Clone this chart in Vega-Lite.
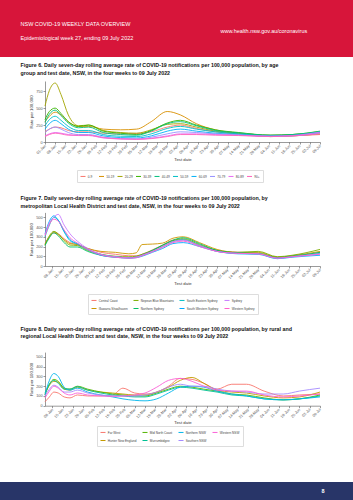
{
  "$schema": "https://vega.github.io/schema/vega-lite/v6.json",
  "padding": 0,
  "spacing": 0,
  "bounds": "flush",
  "background": "white",
  "resolve": {"scale": {"color": "independent"}, "legend": {"color": "independent"}},
  "config": {
    "view": {"stroke": null},
    "font": "Liberation Sans",
    "axis": {"labelFont": "Liberation Sans", "labelFontSize": 3.8, "labelColor": "#555555", "tickColor": "#555555", "domainColor": "#555555", "tickSize": 2, "domainWidth": 0.6, "tickWidth": 0.6, "titleFont": "Liberation Sans", "titleFontSize": 4.3, "titleFontWeight": "normal", "titleColor": "#333333", "grid": false, "labelPadding": 1},
    "legend": {"labelFont": "Liberation Sans", "labelFontSize": 3.1, "labelColor": "#444444", "symbolType": "stroke", "symbolStrokeWidth": 1, "symbolSize": 25, "strokeColor": "#dddddd", "padding": 3, "rowPadding": 2.5, "columnPadding": 2, "labelOffset": 1.8},
    "title": {"font": "Liberation Sans", "fontSize": 5.3, "fontWeight": "bold", "color": "#111111", "anchor": "start", "frame": "group", "lineHeight": 7.3}
  },
  "datasets": {
    "head": [
      {"text": "NSW COVID-19 WEEKLY DATA OVERVIEW", "side": "left", "row": "a"},
      {"text": "www.health.nsw.gov.au/coronavirus", "side": "right", "row": "b"},
      {"text": "Epidemiological week 27, ending 09 July 2022", "side": "left", "row": "c"}
    ],
    "f6": [
      {"date":"2022-01-01","group":"0-9","rate":150},{"date":"2022-01-04","group":"0-9","rate":190},{"date":"2022-01-08","group":"0-9","rate":220},{"date":"2022-01-12","group":"0-9","rate":210},{"date":"2022-01-17","group":"0-9","rate":170},{"date":"2022-01-24","group":"0-9","rate":150},{"date":"2022-01-31","group":"0-9","rate":150},{"date":"2022-02-10","group":"0-9","rate":130},{"date":"2022-02-22","group":"0-9","rate":120},{"date":"2022-03-05","group":"0-9","rate":125},{"date":"2022-03-15","group":"0-9","rate":150},{"date":"2022-03-26","group":"0-9","rate":220},{"date":"2022-04-04","group":"0-9","rate":250},{"date":"2022-04-15","group":"0-9","rate":200},{"date":"2022-04-28","group":"0-9","rate":150},{"date":"2022-05-14","group":"0-9","rate":120},{"date":"2022-06-05","group":"0-9","rate":80},{"date":"2022-06-20","group":"0-9","rate":90},{"date":"2022-07-09","group":"0-9","rate":110},
      {"date":"2022-01-01","group":"10-19","rate":300},{"date":"2022-01-04","group":"10-19","rate":380},{"date":"2022-01-08","group":"10-19","rate":440},{"date":"2022-01-12","group":"10-19","rate":400},{"date":"2022-01-17","group":"10-19","rate":300},{"date":"2022-01-24","group":"10-19","rate":230},{"date":"2022-01-31","group":"10-19","rate":230},{"date":"2022-02-10","group":"10-19","rate":190},{"date":"2022-02-22","group":"10-19","rate":180},{"date":"2022-03-05","group":"10-19","rate":190},{"date":"2022-03-15","group":"10-19","rate":300},{"date":"2022-03-26","group":"10-19","rate":450},{"date":"2022-04-04","group":"10-19","rate":400},{"date":"2022-04-15","group":"10-19","rate":270},{"date":"2022-04-28","group":"10-19","rate":180},{"date":"2022-05-14","group":"10-19","rate":130},{"date":"2022-06-05","group":"10-19","rate":80},{"date":"2022-06-20","group":"10-19","rate":90},{"date":"2022-07-09","group":"10-19","rate":120},
      {"date":"2022-01-01","group":"20-29","rate":530},{"date":"2022-01-04","group":"20-29","rate":760},{"date":"2022-01-08","group":"20-29","rate":870},{"date":"2022-01-12","group":"20-29","rate":700},{"date":"2022-01-17","group":"20-29","rate":400},{"date":"2022-01-24","group":"20-29","rate":240},{"date":"2022-01-31","group":"20-29","rate":250},{"date":"2022-02-10","group":"20-29","rate":170},{"date":"2022-02-22","group":"20-29","rate":140},{"date":"2022-03-05","group":"20-29","rate":130},{"date":"2022-03-15","group":"20-29","rate":180},{"date":"2022-03-26","group":"20-29","rate":260},{"date":"2022-04-04","group":"20-29","rate":270},{"date":"2022-04-15","group":"20-29","rate":220},{"date":"2022-04-28","group":"20-29","rate":160},{"date":"2022-05-14","group":"20-29","rate":130},{"date":"2022-06-05","group":"20-29","rate":100},{"date":"2022-06-20","group":"20-29","rate":110},{"date":"2022-07-09","group":"20-29","rate":140},
      {"date":"2022-01-01","group":"30-39","rate":330},{"date":"2022-01-04","group":"30-39","rate":450},{"date":"2022-01-08","group":"30-39","rate":500},{"date":"2022-01-12","group":"30-39","rate":420},{"date":"2022-01-17","group":"30-39","rate":300},{"date":"2022-01-24","group":"30-39","rate":230},{"date":"2022-01-31","group":"30-39","rate":250},{"date":"2022-02-10","group":"30-39","rate":160},{"date":"2022-02-22","group":"30-39","rate":130},{"date":"2022-03-05","group":"30-39","rate":110},{"date":"2022-03-15","group":"30-39","rate":170},{"date":"2022-03-26","group":"30-39","rate":280},{"date":"2022-04-04","group":"30-39","rate":320},{"date":"2022-04-15","group":"30-39","rate":250},{"date":"2022-04-28","group":"30-39","rate":180},{"date":"2022-05-14","group":"30-39","rate":140},{"date":"2022-06-05","group":"30-39","rate":100},{"date":"2022-06-20","group":"30-39","rate":110},{"date":"2022-07-09","group":"30-39","rate":160},
      {"date":"2022-01-01","group":"40-49","rate":290},{"date":"2022-01-04","group":"40-49","rate":410},{"date":"2022-01-08","group":"40-49","rate":470},{"date":"2022-01-12","group":"40-49","rate":390},{"date":"2022-01-17","group":"40-49","rate":280},{"date":"2022-01-24","group":"40-49","rate":210},{"date":"2022-01-31","group":"40-49","rate":220},{"date":"2022-02-10","group":"40-49","rate":140},{"date":"2022-02-22","group":"40-49","rate":110},{"date":"2022-03-05","group":"40-49","rate":100},{"date":"2022-03-15","group":"40-49","rate":160},{"date":"2022-03-26","group":"40-49","rate":270},{"date":"2022-04-04","group":"40-49","rate":300},{"date":"2022-04-15","group":"40-49","rate":240},{"date":"2022-04-28","group":"40-49","rate":170},{"date":"2022-05-14","group":"40-49","rate":135},{"date":"2022-06-05","group":"40-49","rate":100},{"date":"2022-06-20","group":"40-49","rate":110},{"date":"2022-07-09","group":"40-49","rate":155},
      {"date":"2022-01-01","group":"50-59","rate":240},{"date":"2022-01-04","group":"50-59","rate":330},{"date":"2022-01-08","group":"50-59","rate":380},{"date":"2022-01-12","group":"50-59","rate":320},{"date":"2022-01-17","group":"50-59","rate":230},{"date":"2022-01-24","group":"50-59","rate":170},{"date":"2022-01-31","group":"50-59","rate":170},{"date":"2022-02-10","group":"50-59","rate":110},{"date":"2022-02-22","group":"50-59","rate":85},{"date":"2022-03-05","group":"50-59","rate":80},{"date":"2022-03-15","group":"50-59","rate":120},{"date":"2022-03-26","group":"50-59","rate":200},{"date":"2022-04-04","group":"50-59","rate":230},{"date":"2022-04-15","group":"50-59","rate":190},{"date":"2022-04-28","group":"50-59","rate":150},{"date":"2022-05-14","group":"50-59","rate":120},{"date":"2022-06-05","group":"50-59","rate":90},{"date":"2022-06-20","group":"50-59","rate":100},{"date":"2022-07-09","group":"50-59","rate":150},
      {"date":"2022-01-01","group":"60-69","rate":190},{"date":"2022-01-04","group":"60-69","rate":270},{"date":"2022-01-08","group":"60-69","rate":320},{"date":"2022-01-12","group":"60-69","rate":270},{"date":"2022-01-17","group":"60-69","rate":190},{"date":"2022-01-24","group":"60-69","rate":140},{"date":"2022-01-31","group":"60-69","rate":140},{"date":"2022-02-10","group":"60-69","rate":90},{"date":"2022-02-22","group":"60-69","rate":65},{"date":"2022-03-05","group":"60-69","rate":60},{"date":"2022-03-15","group":"60-69","rate":90},{"date":"2022-03-26","group":"60-69","rate":160},{"date":"2022-04-04","group":"60-69","rate":190},{"date":"2022-04-15","group":"60-69","rate":160},{"date":"2022-04-28","group":"60-69","rate":130},{"date":"2022-05-14","group":"60-69","rate":110},{"date":"2022-06-05","group":"60-69","rate":85},{"date":"2022-06-20","group":"60-69","rate":95},{"date":"2022-07-09","group":"60-69","rate":140},
      {"date":"2022-01-01","group":"70-79","rate":140},{"date":"2022-01-04","group":"70-79","rate":190},{"date":"2022-01-08","group":"70-79","rate":220},{"date":"2022-01-12","group":"70-79","rate":190},{"date":"2022-01-17","group":"70-79","rate":140},{"date":"2022-01-24","group":"70-79","rate":110},{"date":"2022-01-31","group":"70-79","rate":110},{"date":"2022-02-10","group":"70-79","rate":70},{"date":"2022-02-22","group":"70-79","rate":50},{"date":"2022-03-05","group":"70-79","rate":45},{"date":"2022-03-15","group":"70-79","rate":70},{"date":"2022-03-26","group":"70-79","rate":120},{"date":"2022-04-04","group":"70-79","rate":150},{"date":"2022-04-15","group":"70-79","rate":140},{"date":"2022-04-28","group":"70-79","rate":120},{"date":"2022-05-14","group":"70-79","rate":105},{"date":"2022-06-05","group":"70-79","rate":85},{"date":"2022-06-20","group":"70-79","rate":90},{"date":"2022-07-09","group":"70-79","rate":130},
      {"date":"2022-01-01","group":"80-89","rate":90},{"date":"2022-01-04","group":"80-89","rate":120},{"date":"2022-01-08","group":"80-89","rate":140},{"date":"2022-01-12","group":"80-89","rate":130},{"date":"2022-01-17","group":"80-89","rate":110},{"date":"2022-01-24","group":"80-89","rate":95},{"date":"2022-01-31","group":"80-89","rate":95},{"date":"2022-02-10","group":"80-89","rate":60},{"date":"2022-02-22","group":"80-89","rate":45},{"date":"2022-03-05","group":"80-89","rate":40},{"date":"2022-03-15","group":"80-89","rate":55},{"date":"2022-03-26","group":"80-89","rate":90},{"date":"2022-04-04","group":"80-89","rate":120},{"date":"2022-04-15","group":"80-89","rate":120},{"date":"2022-04-28","group":"80-89","rate":110},{"date":"2022-05-14","group":"80-89","rate":100},{"date":"2022-06-05","group":"80-89","rate":85},{"date":"2022-06-20","group":"80-89","rate":95},{"date":"2022-07-09","group":"80-89","rate":145},
      {"date":"2022-01-01","group":"90+","rate":80},{"date":"2022-01-04","group":"90+","rate":110},{"date":"2022-01-08","group":"90+","rate":130},{"date":"2022-01-12","group":"90+","rate":120},{"date":"2022-01-17","group":"90+","rate":100},{"date":"2022-01-24","group":"90+","rate":100},{"date":"2022-01-31","group":"90+","rate":100},{"date":"2022-02-10","group":"90+","rate":65},{"date":"2022-02-22","group":"90+","rate":45},{"date":"2022-03-05","group":"90+","rate":40},{"date":"2022-03-15","group":"90+","rate":50},{"date":"2022-03-26","group":"90+","rate":80},{"date":"2022-04-04","group":"90+","rate":110},{"date":"2022-04-15","group":"90+","rate":110},{"date":"2022-04-28","group":"90+","rate":100},{"date":"2022-05-14","group":"90+","rate":95},{"date":"2022-06-05","group":"90+","rate":80},{"date":"2022-06-20","group":"90+","rate":90},{"date":"2022-07-09","group":"90+","rate":120}
    ],
    "f7": [
      {"date":"2022-01-03","group":"Central Coast","rate":230},{"date":"2022-01-06","group":"Central Coast","rate":300},{"date":"2022-01-09","group":"Central Coast","rate":340},{"date":"2022-01-12","group":"Central Coast","rate":330},{"date":"2022-01-16","group":"Central Coast","rate":280},{"date":"2022-01-20","group":"Central Coast","rate":240},{"date":"2022-01-25","group":"Central Coast","rate":220},{"date":"2022-02-01","group":"Central Coast","rate":180},{"date":"2022-02-10","group":"Central Coast","rate":140},{"date":"2022-02-20","group":"Central Coast","rate":120},{"date":"2022-03-01","group":"Central Coast","rate":105},{"date":"2022-03-06","group":"Central Coast","rate":105},{"date":"2022-03-10","group":"Central Coast","rate":120},{"date":"2022-03-17","group":"Central Coast","rate":165},{"date":"2022-03-24","group":"Central Coast","rate":215},{"date":"2022-03-31","group":"Central Coast","rate":265},{"date":"2022-04-07","group":"Central Coast","rate":270},{"date":"2022-04-18","group":"Central Coast","rate":210},{"date":"2022-04-30","group":"Central Coast","rate":160},{"date":"2022-05-14","group":"Central Coast","rate":140},{"date":"2022-05-28","group":"Central Coast","rate":130},{"date":"2022-06-10","group":"Central Coast","rate":90},{"date":"2022-06-20","group":"Central Coast","rate":100},{"date":"2022-07-09","group":"Central Coast","rate":140},
      {"date":"2022-01-03","group":"Illawarra Shoalhaven","rate":220},{"date":"2022-01-06","group":"Illawarra Shoalhaven","rate":300},{"date":"2022-01-09","group":"Illawarra Shoalhaven","rate":350},{"date":"2022-01-12","group":"Illawarra Shoalhaven","rate":320},{"date":"2022-01-16","group":"Illawarra Shoalhaven","rate":270},{"date":"2022-01-20","group":"Illawarra Shoalhaven","rate":230},{"date":"2022-01-25","group":"Illawarra Shoalhaven","rate":220},{"date":"2022-02-01","group":"Illawarra Shoalhaven","rate":180},{"date":"2022-02-10","group":"Illawarra Shoalhaven","rate":150},{"date":"2022-02-20","group":"Illawarra Shoalhaven","rate":140},{"date":"2022-03-01","group":"Illawarra Shoalhaven","rate":125},{"date":"2022-03-06","group":"Illawarra Shoalhaven","rate":135},{"date":"2022-03-10","group":"Illawarra Shoalhaven","rate":220},{"date":"2022-03-17","group":"Illawarra Shoalhaven","rate":225},{"date":"2022-03-24","group":"Illawarra Shoalhaven","rate":235},{"date":"2022-03-31","group":"Illawarra Shoalhaven","rate":285},{"date":"2022-04-07","group":"Illawarra Shoalhaven","rate":300},{"date":"2022-04-18","group":"Illawarra Shoalhaven","rate":240},{"date":"2022-04-30","group":"Illawarra Shoalhaven","rate":170},{"date":"2022-05-14","group":"Illawarra Shoalhaven","rate":140},{"date":"2022-05-28","group":"Illawarra Shoalhaven","rate":140},{"date":"2022-06-10","group":"Illawarra Shoalhaven","rate":90},{"date":"2022-06-20","group":"Illawarra Shoalhaven","rate":105},{"date":"2022-07-09","group":"Illawarra Shoalhaven","rate":150},
      {"date":"2022-01-03","group":"Nepean Blue Mountains","rate":220},{"date":"2022-01-06","group":"Nepean Blue Mountains","rate":310},{"date":"2022-01-09","group":"Nepean Blue Mountains","rate":355},{"date":"2022-01-12","group":"Nepean Blue Mountains","rate":330},{"date":"2022-01-16","group":"Nepean Blue Mountains","rate":260},{"date":"2022-01-20","group":"Nepean Blue Mountains","rate":215},{"date":"2022-01-25","group":"Nepean Blue Mountains","rate":210},{"date":"2022-02-01","group":"Nepean Blue Mountains","rate":160},{"date":"2022-02-10","group":"Nepean Blue Mountains","rate":120},{"date":"2022-02-20","group":"Nepean Blue Mountains","rate":100},{"date":"2022-03-01","group":"Nepean Blue Mountains","rate":95},{"date":"2022-03-06","group":"Nepean Blue Mountains","rate":100},{"date":"2022-03-10","group":"Nepean Blue Mountains","rate":120},{"date":"2022-03-17","group":"Nepean Blue Mountains","rate":160},{"date":"2022-03-24","group":"Nepean Blue Mountains","rate":210},{"date":"2022-03-31","group":"Nepean Blue Mountains","rate":260},{"date":"2022-04-07","group":"Nepean Blue Mountains","rate":280},{"date":"2022-04-18","group":"Nepean Blue Mountains","rate":220},{"date":"2022-04-30","group":"Nepean Blue Mountains","rate":160},{"date":"2022-05-14","group":"Nepean Blue Mountains","rate":140},{"date":"2022-05-28","group":"Nepean Blue Mountains","rate":150},{"date":"2022-06-10","group":"Nepean Blue Mountains","rate":95},{"date":"2022-06-20","group":"Nepean Blue Mountains","rate":110},{"date":"2022-07-09","group":"Nepean Blue Mountains","rate":170},
      {"date":"2022-01-03","group":"Northern Sydney","rate":210},{"date":"2022-01-06","group":"Northern Sydney","rate":290},{"date":"2022-01-09","group":"Northern Sydney","rate":340},{"date":"2022-01-12","group":"Northern Sydney","rate":310},{"date":"2022-01-16","group":"Northern Sydney","rate":240},{"date":"2022-01-20","group":"Northern Sydney","rate":195},{"date":"2022-01-25","group":"Northern Sydney","rate":195},{"date":"2022-02-01","group":"Northern Sydney","rate":150},{"date":"2022-02-10","group":"Northern Sydney","rate":110},{"date":"2022-02-20","group":"Northern Sydney","rate":90},{"date":"2022-03-01","group":"Northern Sydney","rate":85},{"date":"2022-03-06","group":"Northern Sydney","rate":90},{"date":"2022-03-10","group":"Northern Sydney","rate":110},{"date":"2022-03-17","group":"Northern Sydney","rate":160},{"date":"2022-03-24","group":"Northern Sydney","rate":215},{"date":"2022-03-31","group":"Northern Sydney","rate":265},{"date":"2022-04-07","group":"Northern Sydney","rate":290},{"date":"2022-04-18","group":"Northern Sydney","rate":230},{"date":"2022-04-30","group":"Northern Sydney","rate":160},{"date":"2022-05-14","group":"Northern Sydney","rate":135},{"date":"2022-05-28","group":"Northern Sydney","rate":130},{"date":"2022-06-10","group":"Northern Sydney","rate":85},{"date":"2022-06-20","group":"Northern Sydney","rate":100},{"date":"2022-07-09","group":"Northern Sydney","rate":140},
      {"date":"2022-01-03","group":"South Eastern Sydney","rate":300},{"date":"2022-01-06","group":"South Eastern Sydney","rate":420},{"date":"2022-01-09","group":"South Eastern Sydney","rate":500},{"date":"2022-01-12","group":"South Eastern Sydney","rate":470},{"date":"2022-01-16","group":"South Eastern Sydney","rate":350},{"date":"2022-01-20","group":"South Eastern Sydney","rate":260},{"date":"2022-01-25","group":"South Eastern Sydney","rate":225},{"date":"2022-02-01","group":"South Eastern Sydney","rate":170},{"date":"2022-02-10","group":"South Eastern Sydney","rate":120},{"date":"2022-02-20","group":"South Eastern Sydney","rate":95},{"date":"2022-03-01","group":"South Eastern Sydney","rate":85},{"date":"2022-03-06","group":"South Eastern Sydney","rate":90},{"date":"2022-03-10","group":"South Eastern Sydney","rate":110},{"date":"2022-03-17","group":"South Eastern Sydney","rate":150},{"date":"2022-03-24","group":"South Eastern Sydney","rate":200},{"date":"2022-03-31","group":"South Eastern Sydney","rate":250},{"date":"2022-04-07","group":"South Eastern Sydney","rate":270},{"date":"2022-04-18","group":"South Eastern Sydney","rate":210},{"date":"2022-04-30","group":"South Eastern Sydney","rate":150},{"date":"2022-05-14","group":"South Eastern Sydney","rate":130},{"date":"2022-05-28","group":"South Eastern Sydney","rate":125},{"date":"2022-06-10","group":"South Eastern Sydney","rate":80},{"date":"2022-06-20","group":"South Eastern Sydney","rate":95},{"date":"2022-07-09","group":"South Eastern Sydney","rate":130},
      {"date":"2022-01-03","group":"South Western Sydney","rate":330},{"date":"2022-01-06","group":"South Western Sydney","rate":460},{"date":"2022-01-09","group":"South Western Sydney","rate":515},{"date":"2022-01-12","group":"South Western Sydney","rate":470},{"date":"2022-01-16","group":"South Western Sydney","rate":360},{"date":"2022-01-20","group":"South Western Sydney","rate":270},{"date":"2022-01-25","group":"South Western Sydney","rate":230},{"date":"2022-02-01","group":"South Western Sydney","rate":170},{"date":"2022-02-10","group":"South Western Sydney","rate":110},{"date":"2022-02-20","group":"South Western Sydney","rate":90},{"date":"2022-03-01","group":"South Western Sydney","rate":80},{"date":"2022-03-06","group":"South Western Sydney","rate":85},{"date":"2022-03-10","group":"South Western Sydney","rate":100},{"date":"2022-03-17","group":"South Western Sydney","rate":140},{"date":"2022-03-24","group":"South Western Sydney","rate":180},{"date":"2022-03-31","group":"South Western Sydney","rate":230},{"date":"2022-04-07","group":"South Western Sydney","rate":240},{"date":"2022-04-18","group":"South Western Sydney","rate":200},{"date":"2022-04-30","group":"South Western Sydney","rate":150},{"date":"2022-05-14","group":"South Western Sydney","rate":125},{"date":"2022-05-28","group":"South Western Sydney","rate":120},{"date":"2022-06-10","group":"South Western Sydney","rate":75},{"date":"2022-06-20","group":"South Western Sydney","rate":90},{"date":"2022-07-09","group":"South Western Sydney","rate":110},
      {"date":"2022-01-03","group":"Sydney","rate":320},{"date":"2022-01-06","group":"Sydney","rate":440},{"date":"2022-01-09","group":"Sydney","rate":500},{"date":"2022-01-12","group":"Sydney","rate":530},{"date":"2022-01-16","group":"Sydney","rate":420},{"date":"2022-01-20","group":"Sydney","rate":330},{"date":"2022-01-25","group":"Sydney","rate":255},{"date":"2022-02-01","group":"Sydney","rate":180},{"date":"2022-02-10","group":"Sydney","rate":120},{"date":"2022-02-20","group":"Sydney","rate":95},{"date":"2022-03-01","group":"Sydney","rate":85},{"date":"2022-03-06","group":"Sydney","rate":90},{"date":"2022-03-10","group":"Sydney","rate":110},{"date":"2022-03-17","group":"Sydney","rate":150},{"date":"2022-03-24","group":"Sydney","rate":200},{"date":"2022-03-31","group":"Sydney","rate":250},{"date":"2022-04-07","group":"Sydney","rate":265},{"date":"2022-04-18","group":"Sydney","rate":210},{"date":"2022-04-30","group":"Sydney","rate":150},{"date":"2022-05-14","group":"Sydney","rate":130},{"date":"2022-05-28","group":"Sydney","rate":125},{"date":"2022-06-10","group":"Sydney","rate":80},{"date":"2022-06-20","group":"Sydney","rate":95},{"date":"2022-07-09","group":"Sydney","rate":125},
      {"date":"2022-01-03","group":"Western Sydney","rate":310},{"date":"2022-01-06","group":"Western Sydney","rate":430},{"date":"2022-01-09","group":"Western Sydney","rate":480},{"date":"2022-01-12","group":"Western Sydney","rate":460},{"date":"2022-01-16","group":"Western Sydney","rate":370},{"date":"2022-01-20","group":"Western Sydney","rate":290},{"date":"2022-01-25","group":"Western Sydney","rate":235},{"date":"2022-02-01","group":"Western Sydney","rate":170},{"date":"2022-02-10","group":"Western Sydney","rate":115},{"date":"2022-02-20","group":"Western Sydney","rate":90},{"date":"2022-03-01","group":"Western Sydney","rate":80},{"date":"2022-03-06","group":"Western Sydney","rate":85},{"date":"2022-03-10","group":"Western Sydney","rate":105},{"date":"2022-03-17","group":"Western Sydney","rate":145},{"date":"2022-03-24","group":"Western Sydney","rate":190},{"date":"2022-03-31","group":"Western Sydney","rate":240},{"date":"2022-04-07","group":"Western Sydney","rate":255},{"date":"2022-04-18","group":"Western Sydney","rate":200},{"date":"2022-04-30","group":"Western Sydney","rate":150},{"date":"2022-05-14","group":"Western Sydney","rate":130},{"date":"2022-05-28","group":"Western Sydney","rate":125},{"date":"2022-06-10","group":"Western Sydney","rate":80},{"date":"2022-06-20","group":"Western Sydney","rate":95},{"date":"2022-07-09","group":"Western Sydney","rate":120}
    ],
    "f8": [
      {"date":"2022-01-03","group":"Far West","rate":40},{"date":"2022-01-06","group":"Far West","rate":90},{"date":"2022-01-09","group":"Far West","rate":140},{"date":"2022-01-12","group":"Far West","rate":130},{"date":"2022-01-16","group":"Far West","rate":90},{"date":"2022-01-20","group":"Far West","rate":80},{"date":"2022-01-25","group":"Far West","rate":110},{"date":"2022-02-01","group":"Far West","rate":100},{"date":"2022-02-10","group":"Far West","rate":100},{"date":"2022-02-18","group":"Far West","rate":110},{"date":"2022-02-25","group":"Far West","rate":180},{"date":"2022-03-05","group":"Far West","rate":130},{"date":"2022-03-12","group":"Far West","rate":120},{"date":"2022-03-20","group":"Far West","rate":140},{"date":"2022-03-28","group":"Far West","rate":200},{"date":"2022-04-05","group":"Far West","rate":280},{"date":"2022-04-13","group":"Far West","rate":270},{"date":"2022-04-21","group":"Far West","rate":230},{"date":"2022-04-30","group":"Far West","rate":170},{"date":"2022-05-10","group":"Far West","rate":220},{"date":"2022-05-20","group":"Far West","rate":220},{"date":"2022-06-01","group":"Far West","rate":150},{"date":"2022-06-14","group":"Far West","rate":100},{"date":"2022-06-25","group":"Far West","rate":110},{"date":"2022-07-09","group":"Far West","rate":120},
      {"date":"2022-01-03","group":"Hunter New England","rate":120},{"date":"2022-01-06","group":"Hunter New England","rate":210},{"date":"2022-01-09","group":"Hunter New England","rate":250},{"date":"2022-01-12","group":"Hunter New England","rate":240},{"date":"2022-01-16","group":"Hunter New England","rate":170},{"date":"2022-01-20","group":"Hunter New England","rate":160},{"date":"2022-01-25","group":"Hunter New England","rate":190},{"date":"2022-02-01","group":"Hunter New England","rate":160},{"date":"2022-02-10","group":"Hunter New England","rate":140},{"date":"2022-02-18","group":"Hunter New England","rate":130},{"date":"2022-02-25","group":"Hunter New England","rate":120},{"date":"2022-03-05","group":"Hunter New England","rate":110},{"date":"2022-03-12","group":"Hunter New England","rate":110},{"date":"2022-03-20","group":"Hunter New England","rate":140},{"date":"2022-03-28","group":"Hunter New England","rate":190},{"date":"2022-04-05","group":"Hunter New England","rate":260},{"date":"2022-04-13","group":"Hunter New England","rate":290},{"date":"2022-04-21","group":"Hunter New England","rate":230},{"date":"2022-04-30","group":"Hunter New England","rate":160},{"date":"2022-05-10","group":"Hunter New England","rate":140},{"date":"2022-05-20","group":"Hunter New England","rate":130},{"date":"2022-06-01","group":"Hunter New England","rate":100},{"date":"2022-06-14","group":"Hunter New England","rate":80},{"date":"2022-06-25","group":"Hunter New England","rate":90},{"date":"2022-07-09","group":"Hunter New England","rate":140},
      {"date":"2022-01-03","group":"Mid North Coast","rate":110},{"date":"2022-01-06","group":"Mid North Coast","rate":220},{"date":"2022-01-09","group":"Mid North Coast","rate":270},{"date":"2022-01-12","group":"Mid North Coast","rate":250},{"date":"2022-01-16","group":"Mid North Coast","rate":180},{"date":"2022-01-20","group":"Mid North Coast","rate":170},{"date":"2022-01-25","group":"Mid North Coast","rate":200},{"date":"2022-02-01","group":"Mid North Coast","rate":170},{"date":"2022-02-10","group":"Mid North Coast","rate":140},{"date":"2022-02-18","group":"Mid North Coast","rate":120},{"date":"2022-02-25","group":"Mid North Coast","rate":110},{"date":"2022-03-05","group":"Mid North Coast","rate":100},{"date":"2022-03-12","group":"Mid North Coast","rate":100},{"date":"2022-03-20","group":"Mid North Coast","rate":130},{"date":"2022-03-28","group":"Mid North Coast","rate":170},{"date":"2022-04-05","group":"Mid North Coast","rate":200},{"date":"2022-04-13","group":"Mid North Coast","rate":190},{"date":"2022-04-21","group":"Mid North Coast","rate":170},{"date":"2022-04-30","group":"Mid North Coast","rate":150},{"date":"2022-05-10","group":"Mid North Coast","rate":120},{"date":"2022-05-20","group":"Mid North Coast","rate":110},{"date":"2022-06-01","group":"Mid North Coast","rate":80},{"date":"2022-06-14","group":"Mid North Coast","rate":60},{"date":"2022-06-25","group":"Mid North Coast","rate":70},{"date":"2022-07-09","group":"Mid North Coast","rate":110},
      {"date":"2022-01-03","group":"Murrumbidgee","rate":130},{"date":"2022-01-06","group":"Murrumbidgee","rate":220},{"date":"2022-01-09","group":"Murrumbidgee","rate":260},{"date":"2022-01-12","group":"Murrumbidgee","rate":230},{"date":"2022-01-16","group":"Murrumbidgee","rate":170},{"date":"2022-01-20","group":"Murrumbidgee","rate":170},{"date":"2022-01-25","group":"Murrumbidgee","rate":195},{"date":"2022-02-01","group":"Murrumbidgee","rate":160},{"date":"2022-02-10","group":"Murrumbidgee","rate":130},{"date":"2022-02-18","group":"Murrumbidgee","rate":110},{"date":"2022-02-25","group":"Murrumbidgee","rate":100},{"date":"2022-03-05","group":"Murrumbidgee","rate":90},{"date":"2022-03-12","group":"Murrumbidgee","rate":90},{"date":"2022-03-20","group":"Murrumbidgee","rate":120},{"date":"2022-03-28","group":"Murrumbidgee","rate":160},{"date":"2022-04-05","group":"Murrumbidgee","rate":190},{"date":"2022-04-13","group":"Murrumbidgee","rate":180},{"date":"2022-04-21","group":"Murrumbidgee","rate":160},{"date":"2022-04-30","group":"Murrumbidgee","rate":140},{"date":"2022-05-10","group":"Murrumbidgee","rate":110},{"date":"2022-05-20","group":"Murrumbidgee","rate":100},{"date":"2022-06-01","group":"Murrumbidgee","rate":70},{"date":"2022-06-14","group":"Murrumbidgee","rate":60},{"date":"2022-06-25","group":"Murrumbidgee","rate":70},{"date":"2022-07-09","group":"Murrumbidgee","rate":100},
      {"date":"2022-01-03","group":"Northern NSW","rate":110},{"date":"2022-01-06","group":"Northern NSW","rate":260},{"date":"2022-01-09","group":"Northern NSW","rate":330},{"date":"2022-01-12","group":"Northern NSW","rate":300},{"date":"2022-01-16","group":"Northern NSW","rate":190},{"date":"2022-01-20","group":"Northern NSW","rate":160},{"date":"2022-01-25","group":"Northern NSW","rate":180},{"date":"2022-02-01","group":"Northern NSW","rate":140},{"date":"2022-02-10","group":"Northern NSW","rate":110},{"date":"2022-02-18","group":"Northern NSW","rate":90},{"date":"2022-02-25","group":"Northern NSW","rate":70},{"date":"2022-03-05","group":"Northern NSW","rate":55},{"date":"2022-03-12","group":"Northern NSW","rate":50},{"date":"2022-03-20","group":"Northern NSW","rate":70},{"date":"2022-03-28","group":"Northern NSW","rate":130},{"date":"2022-04-05","group":"Northern NSW","rate":190},{"date":"2022-04-13","group":"Northern NSW","rate":200},{"date":"2022-04-21","group":"Northern NSW","rate":190},{"date":"2022-04-30","group":"Northern NSW","rate":150},{"date":"2022-05-10","group":"Northern NSW","rate":120},{"date":"2022-05-20","group":"Northern NSW","rate":100},{"date":"2022-06-01","group":"Northern NSW","rate":70},{"date":"2022-06-14","group":"Northern NSW","rate":60},{"date":"2022-06-25","group":"Northern NSW","rate":70},{"date":"2022-07-09","group":"Northern NSW","rate":90},
      {"date":"2022-01-03","group":"Southern NSW","rate":100},{"date":"2022-01-06","group":"Southern NSW","rate":170},{"date":"2022-01-09","group":"Southern NSW","rate":210},{"date":"2022-01-12","group":"Southern NSW","rate":190},{"date":"2022-01-16","group":"Southern NSW","rate":140},{"date":"2022-01-20","group":"Southern NSW","rate":140},{"date":"2022-01-25","group":"Southern NSW","rate":160},{"date":"2022-02-01","group":"Southern NSW","rate":130},{"date":"2022-02-10","group":"Southern NSW","rate":110},{"date":"2022-02-18","group":"Southern NSW","rate":100},{"date":"2022-02-25","group":"Southern NSW","rate":100},{"date":"2022-03-05","group":"Southern NSW","rate":100},{"date":"2022-03-12","group":"Southern NSW","rate":110},{"date":"2022-03-20","group":"Southern NSW","rate":140},{"date":"2022-03-28","group":"Southern NSW","rate":190},{"date":"2022-04-05","group":"Southern NSW","rate":220},{"date":"2022-04-13","group":"Southern NSW","rate":200},{"date":"2022-04-21","group":"Southern NSW","rate":200},{"date":"2022-04-30","group":"Southern NSW","rate":170},{"date":"2022-05-10","group":"Southern NSW","rate":150},{"date":"2022-05-20","group":"Southern NSW","rate":140},{"date":"2022-06-01","group":"Southern NSW","rate":120},{"date":"2022-06-14","group":"Southern NSW","rate":120},{"date":"2022-06-25","group":"Southern NSW","rate":150},{"date":"2022-07-09","group":"Southern NSW","rate":180},
      {"date":"2022-01-03","group":"Western NSW","rate":80},{"date":"2022-01-06","group":"Western NSW","rate":150},{"date":"2022-01-09","group":"Western NSW","rate":200},{"date":"2022-01-12","group":"Western NSW","rate":180},{"date":"2022-01-16","group":"Western NSW","rate":130},{"date":"2022-01-20","group":"Western NSW","rate":110},{"date":"2022-01-25","group":"Western NSW","rate":130},{"date":"2022-02-01","group":"Western NSW","rate":110},{"date":"2022-02-10","group":"Western NSW","rate":100},{"date":"2022-02-18","group":"Western NSW","rate":95},{"date":"2022-02-25","group":"Western NSW","rate":100},{"date":"2022-03-05","group":"Western NSW","rate":110},{"date":"2022-03-12","group":"Western NSW","rate":130},{"date":"2022-03-20","group":"Western NSW","rate":190},{"date":"2022-03-28","group":"Western NSW","rate":260},{"date":"2022-04-05","group":"Western NSW","rate":280},{"date":"2022-04-13","group":"Western NSW","rate":250},{"date":"2022-04-21","group":"Western NSW","rate":200},{"date":"2022-04-30","group":"Western NSW","rate":160},{"date":"2022-05-10","group":"Western NSW","rate":150},{"date":"2022-05-20","group":"Western NSW","rate":150},{"date":"2022-06-01","group":"Western NSW","rate":110},{"date":"2022-06-14","group":"Western NSW","rate":90},{"date":"2022-06-25","group":"Western NSW","rate":100},{"date":"2022-07-09","group":"Western NSW","rate":120}
    ],
    "foot": [{"page": "8"}]
  },
  "vconcat": [
    {
      "width": 353, "height": 57,
      "view": {"fill": "#d7153a", "stroke": null},
      "data": {"name": "head"},
      "mark": {"type": "text", "align": "left", "baseline": "middle", "color": "white", "fontSize": 5.5, "font": "Liberation Sans"},
      "encoding": {
        "x": {"field": "side", "type": "nominal", "scale": {"type": "point", "domain": ["left", "right"], "range": [20.5, 220.5], "padding": 0}, "axis": null},
        "y": {"field": "row", "type": "nominal", "scale": {"type": "point", "domain": ["a", "b", "c"], "range": [24, 38], "padding": 0}, "axis": null},
        "text": {"field": "text"}
      }
    },
    {
      "width": 353, "height": 131,
      "title": {"text": ["Figure 6. Daily seven-day rolling average rate of COVID-19 notifications per 100,000 population, by age", "group and test date, NSW, in the four weeks to 09 July 2022"], "dx": 20.5, "offset": -19},
      "data": {"name": "f6"},
      "mark": {"type": "line", "strokeWidth": 0.9, "interpolate": "monotone"},
      "encoding": {
        "x": {"field": "date", "type": "temporal", "scale": {"type": "utc", "domain": [1640995200000, 1657324800000], "range": [45, 320], "nice": false},
          "axis": {"values": [1640995200000,1641600000000,1642204800000,1642809600000,1643414400000,1644019200000,1644624000000,1645228800000,1645833600000,1646438400000,1647043200000,1647648000000,1648252800000,1648857600000,1649462400000,1650067200000,1650672000000,1651276800000,1651881600000,1652486400000,1653091200000,1653696000000,1654300800000,1654905600000,1655510400000,1656115200000,1656720000000,1657324800000], "format": "%d-%b", "labelAngle": -45, "labelAlign": "right", "labelBaseline": "middle", "labelOverlap": false, "labelBound": false, "title": "Test date", "offset": -46, "titlePadding": 2}},
        "y": {"field": "rate", "type": "quantitative", "scale": {"domain": [0, 900], "range": [85, 24], "nice": false, "zero": true},
          "axis": {"values": [0, 250, 500, 750], "title": "Rate per 100,000", "offset": -45, "titlePadding": 2}},
        "color": {"field": "group", "type": "nominal",
          "scale": {"domain": ["0-9","10-19","20-29","30-39","40-49","50-59","60-69","70-79","80-89","90+"], "range": ["#F8766D","#D89000","#A3A500","#39B600","#00BF7D","#00BFC4","#00B0F6","#9590FF","#E76BF3","#FF62BC"]},
          "legend": {"title": null, "orient": "none", "legendX": 77, "legendY": 113, "direction": "horizontal", "columns": 10, "gridAlign": "all", "columnPadding": 0.5}}
      }
    },
    {
      "width": 353, "height": 130,
      "title": {"text": ["Figure 7. Daily seven-day rolling average rate of COVID-19 notifications per 100,000 population, by", "metropolitan Local Health District and test date, NSW, in the four weeks to 09 July 2022"], "dx": 20.5, "offset": -21},
      "data": {"name": "f7"},
      "mark": {"type": "line", "strokeWidth": 0.9, "interpolate": "monotone"},
      "encoding": {
        "x": {"field": "date", "type": "temporal", "scale": {"type": "utc", "domain": [1641168000000, 1657324800000], "range": [45, 320], "nice": false},
          "axis": {"values": [1641600000000,1642204800000,1642809600000,1643414400000,1644019200000,1644624000000,1645228800000,1645833600000,1646438400000,1647043200000,1647648000000,1648252800000,1648857600000,1649462400000,1650067200000,1650672000000,1651276800000,1651881600000,1652486400000,1653091200000,1653696000000,1654300800000,1654905600000,1655510400000,1656115200000,1656720000000,1657324800000], "format": "%d-%b", "labelAngle": -45, "labelAlign": "right", "labelBaseline": "middle", "labelOverlap": false, "labelBound": false, "title": "Test date", "offset": -52, "titlePadding": 2}},
        "y": {"field": "rate", "type": "quantitative", "scale": {"domain": [0, 550], "range": [78, 24.4], "nice": false, "zero": true},
          "axis": {"values": [0, 100, 200, 300, 400, 500], "title": "Rate per 100,000", "offset": -45, "titlePadding": 2}},
        "color": {"field": "group", "type": "nominal",
          "scale": {"domain": ["Central Coast","Nepean Blue Mountains","South Eastern Sydney","Sydney","Illawarra Shoalhaven","Northern Sydney","South Western Sydney","Western Sydney"], "range": ["#F8766D","#7CAE00","#00BFC4","#C77CFF","#CD9600","#00BE67","#00A9FF","#FF61CC"]},
          "legend": {"title": null, "orient": "none", "legendX": 88, "legendY": 106, "direction": "horizontal", "columns": 4, "columnPadding": 3}}
      }
    },
    {
      "width": 353, "height": 164,
      "title": {"text": ["Figure 8. Daily seven-day rolling average rate of COVID-19 notifications per 100,000 population, by rural and", "regional Local Health District and test date, NSW, in the four weeks to 09 July 2022"], "dx": 20.5, "offset": -21.7},
      "data": {"name": "f8"},
      "mark": {"type": "line", "strokeWidth": 0.9, "interpolate": "monotone"},
      "encoding": {
        "x": {"field": "date", "type": "temporal", "scale": {"type": "utc", "domain": [1641168000000, 1657324800000], "range": [45, 320], "nice": false},
          "axis": {"values": [1641600000000,1642204800000,1642809600000,1643414400000,1644019200000,1644624000000,1645228800000,1645833600000,1646438400000,1647043200000,1647648000000,1648252800000,1648857600000,1649462400000,1650067200000,1650672000000,1651276800000,1651881600000,1652486400000,1653091200000,1653696000000,1654300800000,1654905600000,1655510400000,1656115200000,1656720000000,1657324800000], "format": "%d-%b", "labelAngle": -45, "labelAlign": "right", "labelBaseline": "middle", "labelOverlap": false, "labelBound": false, "title": "Test date", "offset": -76.3, "titlePadding": 2}},
        "y": {"field": "rate", "type": "quantitative", "scale": {"domain": [0, 550], "range": [87.7, 34.1], "nice": false, "zero": true},
          "axis": {"values": [0, 100, 200, 300, 400, 500], "title": "Rate per 100,000", "offset": -45, "titlePadding": 2}},
        "color": {"field": "group", "type": "nominal",
          "scale": {"domain": ["Far West","Mid North Coast","Northern NSW","Western NSW","Hunter New England","Murrumbidgee","Southern NSW"], "range": ["#F8766D","#53B400","#00B6EB","#FB61D7","#C49A00","#00C094","#A58AFF"]},
          "legend": {"title": null, "orient": "none", "legendX": 97, "legendY": 108, "direction": "horizontal", "columns": 4, "columnPadding": 3}}
      }
    },
    {
      "width": 353, "height": 18,
      "view": {"fill": "#283568", "stroke": null},
      "data": {"name": "foot"},
      "mark": {"type": "text", "align": "center", "baseline": "middle", "color": "white", "fontSize": 5.5, "fontWeight": "bold", "font": "Liberation Sans"},
      "encoding": {
        "x": {"field": "page", "type": "nominal", "scale": {"type": "point", "domain": ["8"], "range": [323, 323], "padding": 0}, "axis": null},
        "text": {"field": "page"}
      }
    }
  ]
}
